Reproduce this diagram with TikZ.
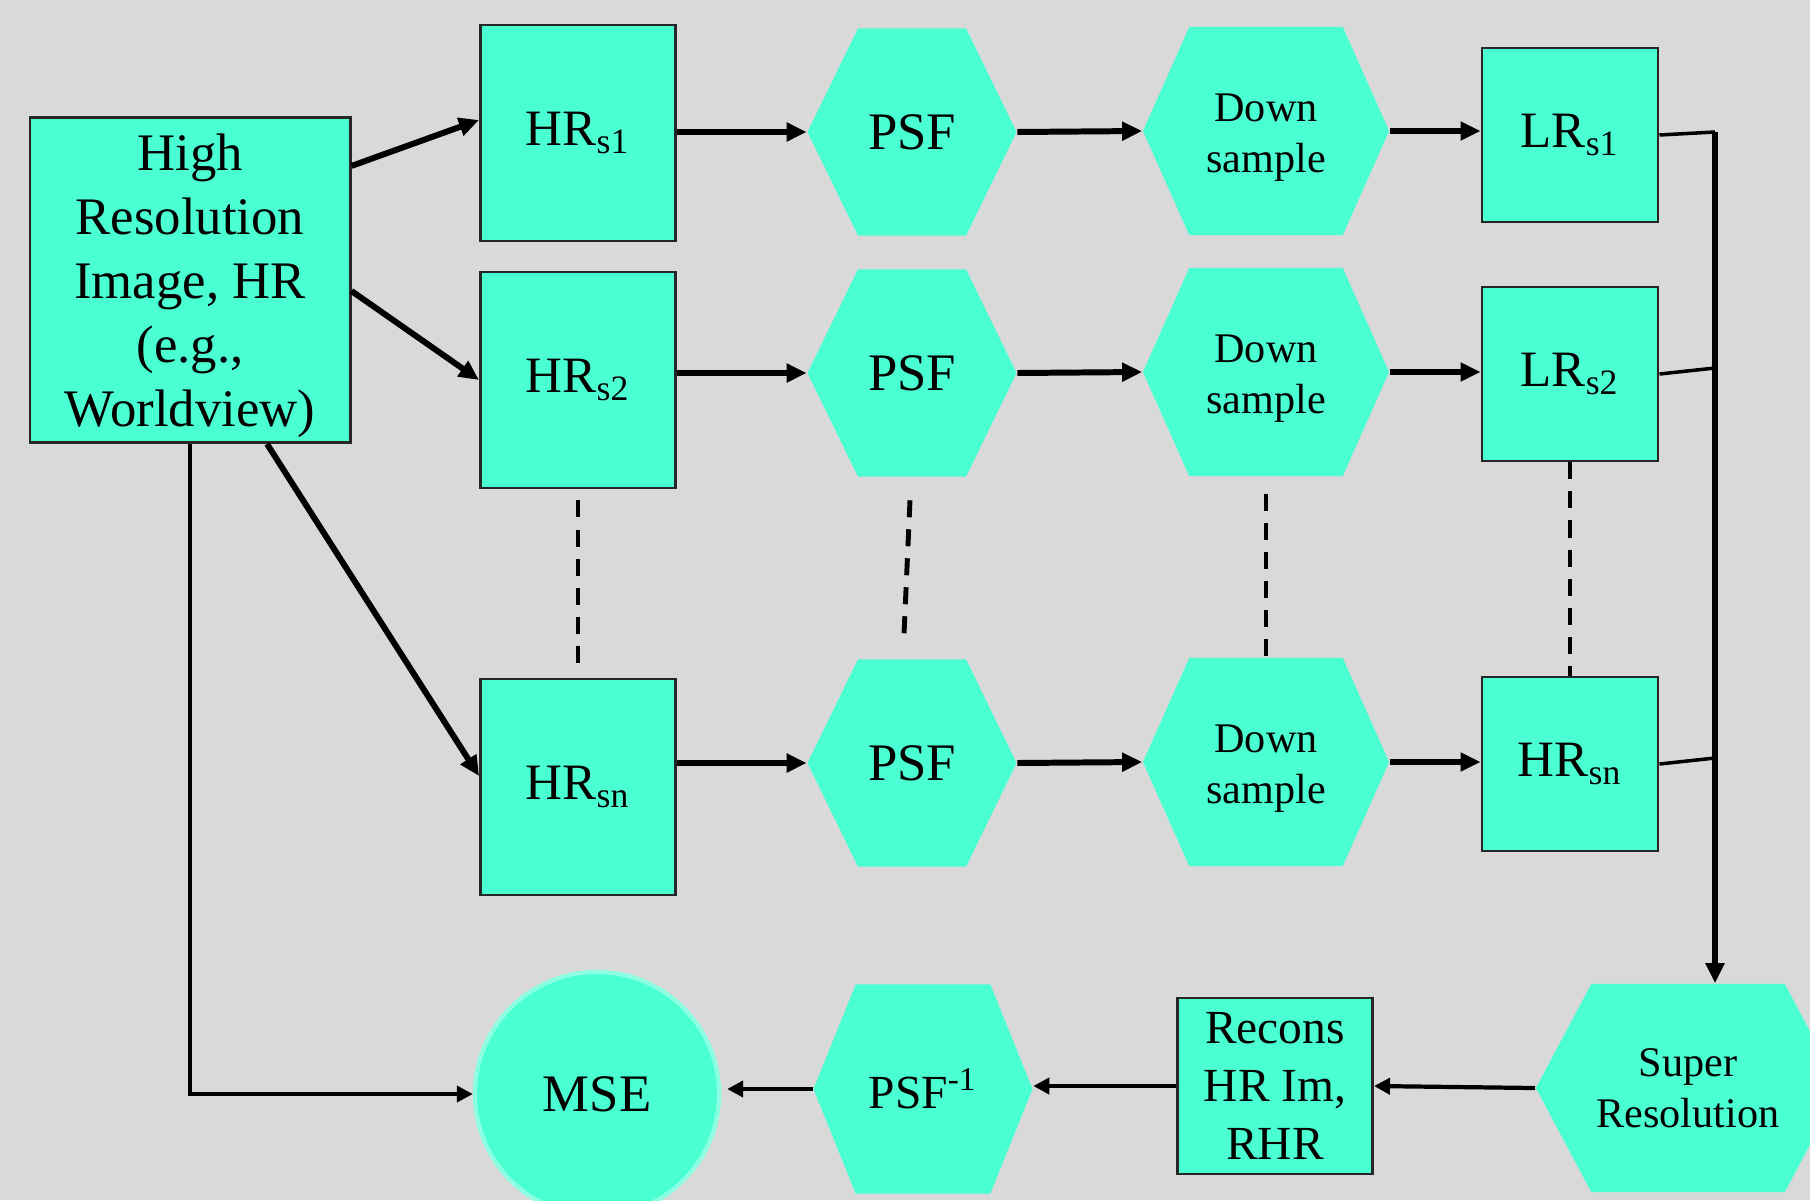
\documentclass[tikz,border=0pt]{standalone}
\usepackage{fontspec}
\setmainfont{Liberation Serif}
\usetikzlibrary{shapes.symbols,arrows.meta}
\definecolor{aqua}{RGB}{74,255,210}
\definecolor{aquaedge}{RGB}{140,255,226}
\definecolor{slide}{RGB}{217,217,217}

\newcommand{\lowtext}[1]{\raisebox{-0.06cm}[\height][\depth]{\begin{tabular}{@{}c@{}}#1\end{tabular}}}

\begin{document}
\begin{tikzpicture}[x=0.01cm, y=-0.01cm]
    \tikzstyle{box} = [rectangle, draw=black!85, line width=0.8pt, fill=aqua, inner sep=0pt, align=center]
    \tikzstyle{hexa} = [signal, signal to=east and west, signal pointer angle=128, fill=aqua, inner sep=0pt, align=center]
    \tikzstyle{arrow} = [line width=1.7pt, -{Triangle[length=0.2cm, width=0.18cm]}]
    \tikzstyle{thinarrow} = [line width=1.2pt, -{Triangle[length=0.16cm, width=0.16cm]}]
    \tikzstyle{link} = [line width=1pt]
    \tikzstyle{dots} = [line width=1.4pt, dash pattern=on 0.17cm off 0.12cm]
    \tikzstyle{big} = [font=\fontsize{14.5}{17}\selectfont]
    \tikzstyle{small} = [font=\fontsize{12}{14.5}\selectfont]

    \fill[slide] (0,0) rectangle (1810,1200);
    \clip (0,0) rectangle (1810,1200);

    % source image
    \node (hr) [box, minimum width=3.2cm, minimum height=3.25cm, font=\fontsize{15}{18.2}\selectfont] at (190,280) {\lowtext{High\\Resolution\\Image, HR\\(e.g.,\\Worldview)}};

    % shifted HR images
    \node (hrA) [box, big, minimum width=1.95cm, minimum height=2.16cm] at (578,133) {HR\textsubscript{s1}};
    \node (hrB) [box, big, minimum width=1.95cm, minimum height=2.16cm] at (578,380) {HR\textsubscript{s2}};
    \node (hrC) [box, big, minimum width=1.95cm, minimum height=2.16cm] at (578,787) {HR\textsubscript{sn}};

    % blur
    \node (psfA) [hexa, font=\fontsize{15}{18}\selectfont, minimum width=2.09cm, minimum height=2.07cm] at (912,132) {PSF};
    \node (psfB) [hexa, font=\fontsize{15}{18}\selectfont, minimum width=2.09cm, minimum height=2.07cm] at (912,373) {PSF};
    \node (psfC) [hexa, font=\fontsize{15}{18}\selectfont, minimum width=2.09cm, minimum height=2.07cm] at (912,763) {PSF};

    % decimation
    \node (downA) [hexa, small, signal pointer angle=132, minimum width=2.46cm, minimum height=2.08cm] at (1266,131) {\lowtext{Down\\sample}};
    \node (downB) [hexa, small, signal pointer angle=132, minimum width=2.46cm, minimum height=2.08cm] at (1266,372) {\lowtext{Down\\sample}};
    \node (downC) [hexa, small, signal pointer angle=132, minimum width=2.46cm, minimum height=2.08cm] at (1266,762) {\lowtext{Down\\sample}};

    % low resolution images
    \node (lrA) [box, big, minimum width=1.76cm, minimum height=1.74cm] at (1570,135) {LR\textsubscript{s1}};
    \node (lrB) [box, big, minimum width=1.76cm, minimum height=1.74cm] at (1570,374) {LR\textsubscript{s2}};
    \node (hrD) [box, big, minimum width=1.76cm, minimum height=1.74cm] at (1570,764) {HR\textsubscript{sn}};

    % reconstruction
    \node (sr) [hexa, small, signal pointer angle=124, minimum width=3.04cm, minimum height=2.08cm] at (1688,1088) {Super\\Resolution};
    \node (rec) [box, font=\fontsize{13.5}{16.4}\selectfont, minimum width=1.95cm, minimum height=1.76cm] at (1275,1086) {Recons\\HR Im,\\RHR};
    \node (psfI) [hexa, font=\fontsize{13.5}{16}\selectfont, signal pointer angle=136, minimum width=2.19cm, minimum height=2.09cm] at (923,1089) {PSF\textsuperscript{-1}};
    \node (mse) [circle, fill=aqua, draw=aquaedge, line width=1.2pt, minimum size=2.44cm, font=\fontsize{15}{18}\selectfont] at (597,1094) {MSE};

    \coordinate (busA) at (1715,132);
    \coordinate (busB) at (1715,368);
    \coordinate (busC) at (1715,758);

    \draw [arrow] ([yshift=1.14cm]hr.east) -- ([yshift=0.13cm]hrA.west);
    \draw [arrow] ([yshift=-0.11cm]hr.east) -- (hrB.west);
    \draw [arrow] ([xshift=0.77cm]hr.south) -- ([yshift=0.11cm]hrC.west);
    \draw [thinarrow, line width=1.3pt] (hr.south) |- (mse.west);

    \foreach \r in {A,B,C} {
        \draw [arrow] (psf\r.west -| hr\r.east) -- (psf\r.west);
        \draw [arrow] (psf\r.east) -- (down\r.west);
    }
    \draw [arrow] (downA.east) -- (downA.east -| lrA.west);
    \draw [arrow] (downB.east) -- (downB.east -| lrB.west);
    \draw [arrow] (downC.east) -- (downC.east -| hrD.west);

    \draw [link] (lrA.east) -- (busA);
    \draw [link] (lrB.east) -- (busB);
    \draw [link] (hrD.east) -- (busC);
    \draw [arrow, line width=1.8pt] (busA) -- (busA |- sr.north);

    \draw [thinarrow] (sr.west) -- (rec.east);
    \draw [thinarrow] (rec.west) -- (rec.west -| psfI.east);
    \draw [thinarrow, shorten >=0.06cm] (psfI.west) -- (psfI.west -| mse.east);

    \draw [dots] ([yshift=-0.11cm]hrB.south) -- ([yshift=0.06cm]hrC.north);
    \draw [dots] ([xshift=-0.02cm, yshift=-0.23cm]psfB.south) -- ([xshift=-0.08cm, yshift=0.24cm]psfC.north);
    \draw [dots] ([yshift=-0.17cm]downB.south) -- (downC.north);
    \draw [dots] (lrB.south) -- (hrD.north);
\end{tikzpicture}
\end{document}
